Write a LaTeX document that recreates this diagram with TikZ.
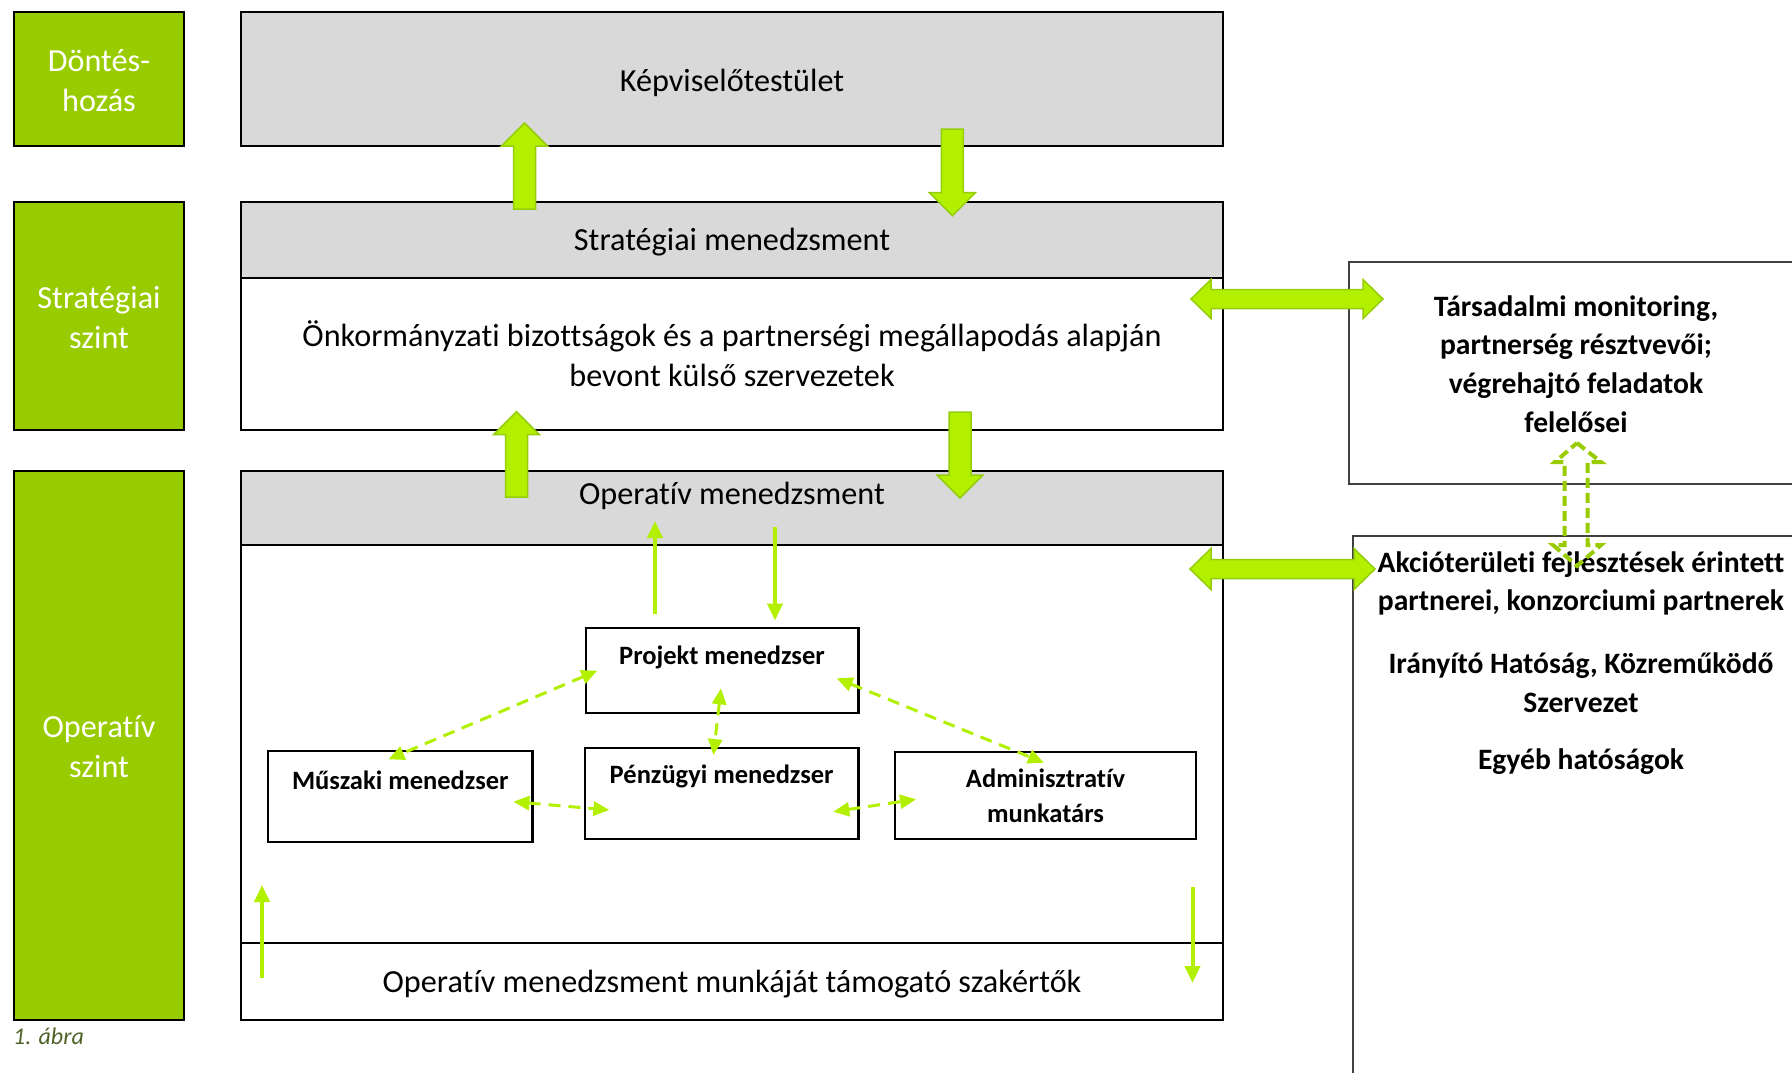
\documentclass[tikz,border=0pt]{standalone}
\usepackage{fontspec}
\setmainfont[Ligatures=NoCommon]{Carlito}
\usetikzlibrary{arrows.meta}
\definecolor{lvl}{RGB}{153,204,0}
\definecolor{limef}{RGB}{178,240,0}
\definecolor{limeedge}{RGB}{150,205,10}
\definecolor{hdr}{RGB}{217,217,217}
\definecolor{capt}{RGB}{79,98,40}
\definecolor{rbox}{RGB}{64,64,64}
\newcommand\myfatup[3]{%
  \filldraw[fat] (#1,#2) -- (#1+23,#2+23) -- (#1+11,#2+23) -- (#1+11,#3) -- (#1-11,#3) -- (#1-11,#2+23) -- (#1-23,#2+23) -- cycle;}
\newcommand\myfatdown[3]{%
  \filldraw[fat] (#1,#3) -- (#1+23,#3-23) -- (#1+11,#3-23) -- (#1+11,#2) -- (#1-11,#2) -- (#1-11,#3-23) -- (#1-23,#3-23) -- cycle;}
\begin{document}
\begin{tikzpicture}[x=1pt,y=-1pt,
  levelbox/.style={draw=black, line width=2.5pt, fill=lvl, inner sep=0pt},
  leveltxt/.style={text=white, font=\fontsize{32.2}{40}\selectfont, align=center, inner sep=0pt},
  mainbox/.style={draw=black, line width=2.5pt, inner sep=0pt},
  txt/.style={font=\fontsize{32.2}{40}\selectfont, align=center, inner sep=0pt},
  btxt/.style={font=\bfseries\fontsize{29.6}{38.7}\selectfont, align=center, inner sep=0pt},
  rolebox/.style={draw=black, line width=2.5pt, inner sep=0pt},
  roletxt/.style={font=\bfseries\fontsize{26.5}{35}\selectfont, align=center, inner sep=0pt},
  rightbox/.style={draw=rbox, line width=1.5pt, inner sep=0pt},
  fat/.style={fill=limef, draw=limeedge, line width=1.5pt},
  solidar/.style={draw=limef, line width=4pt, -{Triangle[length=17pt,width=15pt]}},
  dashar/.style={draw=limef, line width=3pt, dash pattern=on 12pt off 8pt,
    {Triangle[length=16pt,width=14pt]}-{Triangle[length=16pt,width=14pt]}},
  hollow/.style={draw=lvl, line width=4pt, dash pattern=on 10pt off 5pt}]
\useasboundingbox (0,0) rectangle (1792,1073);
\clip (0,0) rectangle (1792,1073);

% level boxes
\node[levelbox, minimum width=170, minimum height=134] (dont) at (99,79) {};
\node[leveltxt] (dontt) at (99,81) {Döntés-\\hozás};
\node[levelbox, minimum width=170, minimum height=228] (strl) at (99,316) {};
\node[leveltxt] (strlt) at (99,317.5) {Stratégiai\\szint};
\node[levelbox, minimum width=170, minimum height=549] (opl) at (99,745.5) {};
\node[leveltxt] (oplt) at (99,747) {Operatív\\szint};

% main boxes
\node[mainbox, fill=hdr, minimum width=982, minimum height=134] (kep) at (732,79) {};
\node[txt] (kept) at (732,82.5) {Képviselőtestület};
\node[mainbox, fill=hdr, minimum width=982, minimum height=76] (smh) at (732,240) {};
\node[txt] (smht) at (732,242.5) {Stratégiai menedzsment};
\node[mainbox, minimum width=982, minimum height=152] (sbody) at (732,354) {};
\node[txt] (sbodyt) at (732,354)
  {Önkormányzati bizottságok és a partnerségi megállapodás alapján\\bevont külső szervezetek};
\node[mainbox, fill=hdr, minimum width=982, minimum height=74] (omh) at (732,508) {};
\node[txt] (omhtxt) at (732,495.5) {Operatív menedzsment};
\node[mainbox, minimum width=982, minimum height=398] (obody) at (732,744) {};
\node[mainbox, minimum width=982, minimum height=77] (obot) at (732,981.5) {};
\node[txt] (obott) at (732,984.5) {Operatív menedzsment munkáját támogató szakértők};

% role boxes
\node[rolebox, minimum width=272.5, minimum height=85] (proj) at (722,670.5) {};
\node[roletxt] (projt) at (722,657) {Projekt menedzser};
\node[rolebox, minimum width=273.5, minimum height=91] (penz) at (721.7,793.5) {};
\node[roletxt] (penzt) at (721.7,776) {Pénzügyi menedzser};
\node[rolebox, minimum width=264.6, minimum height=91] (musz) at (400.3,796.5) {};
\node[roletxt] (muszt) at (400.3,780) {Műszaki menedzser};
\node[rolebox, minimum width=301, minimum height=87, roletxt] (admin) at (1045.5,795.5) {Adminisztratív\\munkatárs};

% right boxes
\node[rightbox, minimum width=501, minimum height=222] (tarsb) at (1599.5,373) {};
\node[btxt] (tars) at (1576,364) {Társadalmi monitoring,\\partnerség résztvevői;\\végrehajtó feladatok\\felelősei};
\node[rightbox, minimum width=497, minimum height=584] (akcb) at (1601.5,828) {};
\node[btxt] (akcio) at (1581,583.5) {Akcióterületi fejlesztések érintett\\partnerei, konzorciumi partnerek};
\node[btxt] (iranyito) at (1581,682.5) {Irányító Hatóság, Közreműködő\\Szervezet};
\node[btxt] (egyeb) at (1581,762) {Egyéb hatóságok};

% fat vertical arrows
\myfatup{524.5}{123}{209}
\myfatdown{952.4}{129}{215.7}
\myfatup{516.5}{411.7}{497}
\myfatdown{960}{412}{498}

% fat horizontal double arrows
\filldraw[fat] (1191,299) -- (1211,279.5) -- (1211,289.5) -- (1363,289.5) -- (1363,279.5) -- (1383,299)
  -- (1363,318.5) -- (1363,308.5) -- (1211,308.5) -- (1211,318.5) -- cycle;
\filldraw[fat] (1190,569) -- (1211,548.5) -- (1211,559.5) -- (1354,559.5) -- (1354,548.5) -- (1375,569)
  -- (1354,589.5) -- (1354,578.5) -- (1211,578.5) -- (1211,589.5) -- cycle;

% hollow dashed double arrow
\draw[hollow] (1577,443) -- (1601,462) -- (1587.5,462) -- (1587.5,545) -- (1601,545) -- (1577,566)
  -- (1553,545) -- (1564.5,545) -- (1564.5,462) -- (1555,462) -- cycle;

% thin solid arrows
\coordinate (u1s) at (655,614); \coordinate (u1e) at (655,521);
\coordinate (d1s) at (775,527); \coordinate (d1e) at (775,620.5);
\coordinate (u2s) at (262,978); \coordinate (u2e) at (262,885);
\coordinate (d2s) at (1192.5,887); \coordinate (d2e) at (1192.5,983);
\draw[solidar] (u1s) -- (u1e);
\draw[solidar] (d1s) -- (d1e);
\draw[solidar] (u2s) -- (u2e);
\draw[solidar] (d2s) -- (d2e);

% dashed connectors
\coordinate (pm1) at (597.3,670.7); \coordinate (mp1) at (388.4,759.3);
\coordinate (pp1) at (721,688.3);   \coordinate (pp2) at (713.4,755);
\coordinate (mz1) at (513.4,801.7); \coordinate (mz2) at (609.4,810);
\coordinate (pa1) at (833.3,811.7); \coordinate (pa2) at (916,799.3);
\coordinate (ja1) at (836.7,678.3); \coordinate (ja2) at (1044,762.7);
\draw[dashar] (pm1) -- (mp1);
\draw[dashar] (pp1) -- (pp2);
\draw[dashar] (mz1) -- (mz2);
\draw[dashar] (pa1) -- (pa2);
\draw[dashar] (ja1) -- (ja2);

% caption
\node[anchor=west, inner sep=0pt, text=capt, font=\itshape\fontsize{24}{28}\selectfont] (cap) at (13,1036) {1. ábra};
\end{tikzpicture}
\end{document}
